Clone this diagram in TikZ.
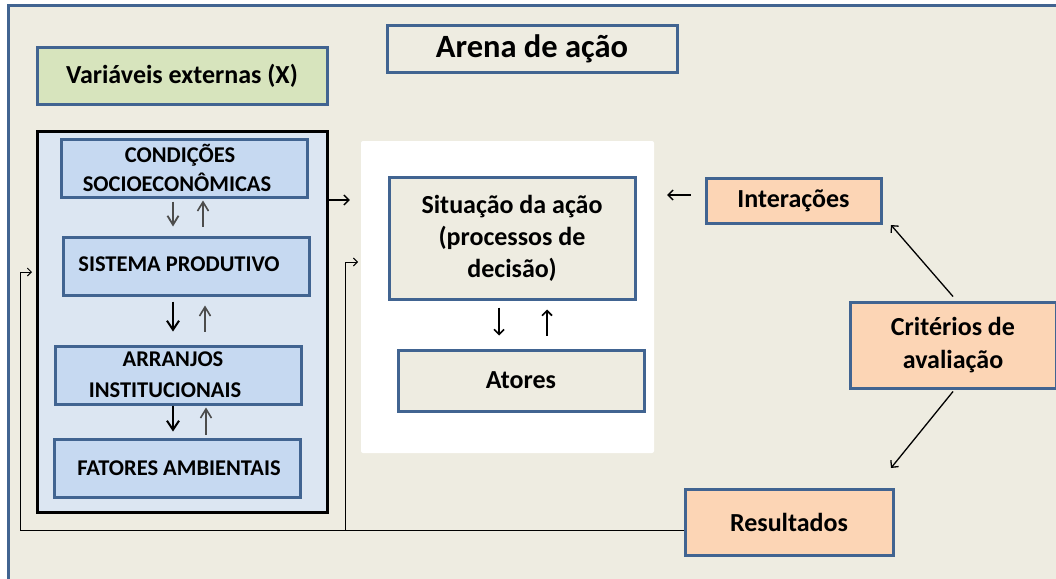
\documentclass[tikz,border=0pt]{standalone}
\usepackage{fontspec}
\setmainfont{Carlito}
\usetikzlibrary{arrows.meta}
\definecolor{bordblue}{RGB}{65,100,145}
\definecolor{tanbg}{RGB}{238,236,225}
\definecolor{extblue}{RGB}{220,230,242}
\definecolor{innblue}{RGB}{198,217,241}
\definecolor{lgreen}{RGB}{215,228,189}
\definecolor{peach}{RGB}{252,213,181}
\begin{document}
\begin{tikzpicture}[x=1pt,y=-1pt,
  blbox/.style={draw=bordblue, line width=3, inner sep=0pt, font=\bfseries, align=center},
  inner/.style={blbox, fill=innblue, minimum width=246, minimum height=58, font=\bfseries\fontsize{22.5}{29}\selectfont},
  orbox/.style={blbox, fill=peach, font=\bfseries\fontsize{26}{33}\selectfont},
  arr/.style={line width=1.3, -{Straight Barb[length=5,width=10]}},
  dnarr/.style={line width=2, -{Straight Barb[length=9,width=12]}},
  uparr/.style={line width=1.6, draw=black!70, -{Straight Barb[length=9,width=11]}},
  fbarr/.style={line width=0.9, -{Straight Barb[length=4,width=8]}}
]
\useasboundingbox (0,0) rectangle (1056,578);
\fill[white] (0,0) rectangle (1056,578);
\draw[bordblue, line width=3, fill=tanbg] (8,6) rectangle (1075,600);

\node[blbox, fill=tanbg, minimum width=290, minimum height=46, font=\bfseries\fontsize{32.5}{36}\selectfont] (title) at (532,49) {Arena de ação};
\node[blbox, fill=lgreen, minimum width=290, minimum height=56, font=\bfseries\fontsize{26}{30}\selectfont] (ext) at (182,76) {Variáveis externas (X)};

\node[draw=black, line width=3, fill=extblue, minimum width=290, minimum height=381, inner sep=0pt] (big) at (182,321.5) {};
\node[inner] (cond) at (184,168) {\hspace*{-8pt}CONDIÇÕES\\\hspace*{-14pt}SOCIOECONÔMICAS};
\node[inner] (sist) at (186,266) {\raisebox{3pt}{\hspace*{-14pt}SISTEMA PRODUTIVO}};
\node[inner, font=\bfseries\fontsize{22.5}{31}\selectfont] (arr) at (178,375) {\hspace*{-10pt}ARRANJOS\\\hspace*{-26pt}INSTITUCIONAIS};
\node[inner] (fat) at (177,468) {\hspace*{4pt}FATORES AMBIENTAIS};

\draw[uparr, line width=1.8, shorten <=3, shorten >=9] (cond.south -| 173,0) -- (sist.north -| 173,0);
\draw[uparr, shorten <=9, shorten >=2] (sist.north -| 203,0) -- (cond.south -| 203,0);
\draw[dnarr, shorten <=5, shorten >=13] (sist.south -| 173,0) -- (arr.north -| 173,0);
\draw[uparr, shorten <=13, shorten >=9] (arr.north -| 205,0) -- (sist.south -| 205,0);
\draw[dnarr, shorten <=0, shorten >=6] (arr.south -| 173,0) -- (fat.north -| 173,0);
\draw[uparr, shorten <=3, shorten >=2] (fat.north -| 206,0) -- (arr.south -| 206,0);

\node[fill=white, rounded corners=2, minimum width=293, minimum height=312, inner sep=0pt] (panel) at (507.5,297) {};
\node[blbox, fill=tanbg, minimum width=246, minimum height=122, font=\bfseries\fontsize{26}{32}\selectfont] (sit) at (512,238) {Situação da ação\\(processos de\\decisão)};
\node[blbox, fill=tanbg, minimum width=246, minimum height=61, font=\bfseries\fontsize{26}{32}\selectfont] (ator) at (521,380.5) {Atores};
\draw[arr, line width=1.6, shorten <=7, shorten >=13] (sit.south -| 499,0) -- (ator.north -| 499,0);
\draw[arr, line width=1.6, shorten <=13, shorten >=9] (ator.north -| 547,0) -- (sit.south -| 547,0);

\draw[arr, shorten >=11] (big.east |- 0,200) -- (panel.west |- 0,200);

\node[orbox, minimum width=175, minimum height=45] (inter) at (793.5,200.5) {Interações};
\node[orbox, minimum width=206, minimum height=86] (crit) at (953,345) {Critérios de\\avaliação};
\node[orbox, minimum width=208, minimum height=66] (res) at (789,522) {Resultados};

\draw[arr, shorten <=14, shorten >=13] (inter.west |- 0,195) -- (panel.east |- 0,195);
\coordinate (tipI) at (891,225);
\coordinate (tipR) at (891,468);
\draw[arr] ([yshift=4]crit.north) -- (tipI);
\draw[arr] ([yshift=-2]crit.south) -- (tipR);

\coordinate (loopL) at (20,272);
\coordinate (loopM) at (345,262);
\coordinate (baseM) at (345,530);
\draw[fbarr] (res.west |- 0,530) -| (loopL) -- ++(12,0);
\draw[fbarr] (baseM) -- (loopM) -- ++(13,0);
\end{tikzpicture}
\end{document}
